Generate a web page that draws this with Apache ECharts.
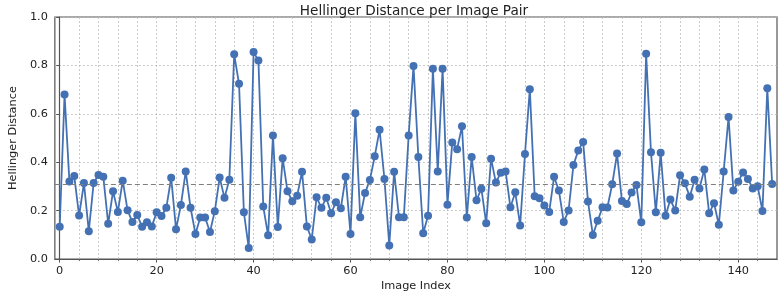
<!DOCTYPE html>
<html>
<head>
<meta charset="utf-8">
<script src="https://cdn.jsdelivr.net/npm/echarts@6/dist/echarts.min.js"></script>
<style>
html,body{margin:0;padding:0;background:#fff;}
#chart{width:780px;height:297px;}
</style>
</head>
<body>
<div id="chart"></div>
<script>
// Hellinger distance per image pair (index 0..147)
const distances = [
  0.134,0.680,0.321,0.343,0.180,0.314,0.115,0.314,0.347,0.340,
  0.146,0.280,0.195,0.324,0.202,0.153,0.182,0.134,0.152,0.135,
  0.193,0.178,0.212,0.336,0.123,0.223,0.362,0.212,0.104,0.172,
  0.172,0.112,0.198,0.337,0.253,0.328,0.846,0.724,0.193,0.046,
  0.855,0.820,0.217,0.098,0.511,0.133,0.417,0.280,0.239,0.262,
  0.361,0.135,0.081,0.255,0.212,0.253,0.189,0.235,0.210,0.340,
  0.104,0.602,0.173,0.273,0.327,0.425,0.534,0.331,0.056,0.361,
  0.173,0.173,0.511,0.798,0.422,0.107,0.179,0.786,0.362,0.786,
  0.225,0.482,0.454,0.549,0.172,0.422,0.243,0.291,0.148,0.415,
  0.316,0.357,0.362,0.214,0.276,0.139,0.434,0.702,0.260,0.251,
  0.221,0.195,0.340,0.283,0.153,0.201,0.389,0.449,0.484,0.238,
  0.100,0.158,0.214,0.213,0.309,0.436,0.240,0.228,0.275,0.306,
  0.152,0.848,0.441,0.193,0.439,0.179,0.246,0.201,0.346,0.313,
  0.258,0.328,0.292,0.370,0.189,0.231,0.142,0.362,0.587,0.283,
  0.320,0.358,0.331,0.292,0.301,0.199,0.706,0.310
];
const xMajorTicks = [0,20,40,60,80,100,120,140];
const xMinorTicks = [0,4,8,12,16,20,24,28,32,36,40,44,48,52,56,60,64,68,72,76,80,84,88,92,96,100,104,108,112,116,120,124,128,132,136,140,144];
const yTicks = [0,0.2,0.4,0.6,0.8,1.0];

const meanValue = distances.reduce((a,b)=>a+b,0)/distances.length;
const seriesData = distances.map((v,i)=>[i,v]);

const FONT = 'DejaVu Sans';
const TXT = '#222';
const SPINE = '#555';
const GRIDC = '#bdbdbd';
const BLUE = '#4471b3';

const chart = echarts.init(document.getElementById('chart'), null, {renderer:'canvas'});
chart.setOption({
  animation:false,
  backgroundColor:'#fff',
  title:{
    text:'Hellinger Distance per Image Pair',
    left:409, top:-1, textAlign:'center',
    textStyle:{fontFamily:FONT,fontSize:13.6,fontWeight:'normal',color:TXT}
  },
  grid:{left:41,right:3,top:17,bottom:36,show:true,borderColor:SPINE,borderWidth:1.2,backgroundColor:'transparent'},
  xAxis:[{
    type:'value', min:-1, max:148,
    name:'Image Index', nameLocation:'middle', nameGap:19,
    nameTextStyle:{fontFamily:FONT,fontSize:11.3,color:TXT},
    axisLine:{show:true,onZero:false,lineStyle:{color:SPINE,width:1.2}},
    axisTick:{show:true,length:2,customValues:xMinorTicks,lineStyle:{color:SPINE,width:0.8}},
    axisLabel:{show:true,margin:6,customValues:xMajorTicks,fontFamily:FONT,fontSize:11.3,color:TXT},
    splitLine:{show:true,lineStyle:{color:GRIDC,width:0.8,type:[2,2]}}
  },{
    type:'value', min:-1, max:148, position:'bottom',
    axisLine:{show:false},
    axisTick:{show:true,length:3.5,customValues:xMajorTicks,lineStyle:{color:SPINE,width:1}},
    axisLabel:{show:false},
    splitLine:{show:false}
  }],
  yAxis:{
    type:'value', min:0, max:1, interval:0.2,
    name:'Hellinger Distance', nameLocation:'middle', nameGap:29,
    nameTextStyle:{fontFamily:FONT,fontSize:11.3,color:TXT},
    axisLine:{show:true,lineStyle:{color:SPINE,width:1.2}},
    axisTick:{show:true,length:3.5,customValues:yTicks,lineStyle:{color:SPINE,width:1}},
    axisLabel:{margin:7,fontFamily:FONT,fontSize:11.3,color:TXT,formatter:v=>v.toFixed(1)},
    splitLine:{show:true,lineStyle:{color:GRIDC,width:0.8,type:[2,2]}}
  },
  series:[{
    type:'line',
    data:seriesData,
    xAxisIndex:0,
    symbol:'circle', symbolSize:8,
    itemStyle:{color:BLUE},
    lineStyle:{color:BLUE,width:1.8},
    z:3,
    markLine:{
      silent:true, symbol:'none', label:{show:false},
      lineStyle:{color:'#7f7f7f',width:1.2,type:[5,3]},
      data:[{yAxis:meanValue}]
    }
  }]
});
</script>
</body>
</html>
